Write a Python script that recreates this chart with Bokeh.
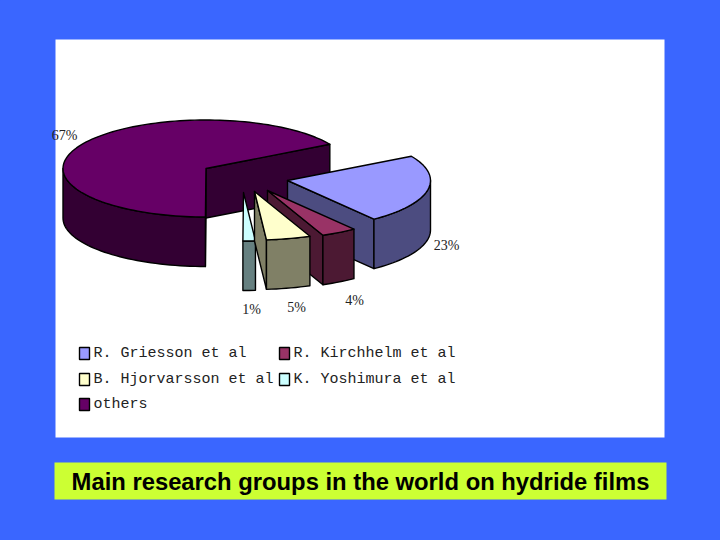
import math
from bokeh.core.properties import value
from bokeh.embed import file_html
from bokeh.models import Range1d
from bokeh.plotting import figure
from bokeh.resources import INLINE

groups = ["R. Griesson et al", "R. Kirchhelm et al", "B. Hjorvarsson et al", "K. Yoshimura et al", "others"]
shares = [23, 4, 5, 1.4, 66.6]
slice_labels = ["23%", "4%", "5%", "1%", "67%"]
top_colors = ["#9999FF", "#993366", "#FFFFCC", "#CCFFFF", "#660066"]
side_colors = ["#4C4C80", "#4C1933", "#808066", "#668080", "#330033"]
caption = "Main research groups in the world on hydride films"

BG = "#3A66FF"
p = figure(width=704, height=524, output_backend="svg", toolbar_location=None,
           x_range=Range1d(0, 704), y_range=Range1d(524, 0), min_border=0,
           background_fill_color=BG, border_fill_color=BG, outline_line_color=None)
p.xaxis.visible = False
p.yaxis.visible = False
p.xgrid.visible = False
p.ygrid.visible = False

# panels
p.quad(left=[55], right=[664], top=[39], bottom=[437], fill_color="white", line_color=None)
p.quad(left=[54], right=[666], top=[462], bottom=[499], fill_color="#CCFF33", line_color=None)
p.text(x=[360], y=[481], text=[caption], text_font=value("Liberation Sans"), text_font_style="bold",
       text_font_size="23.8px", text_align="center", text_baseline="middle", text_color="black")

# pie geometry
RX, RY, DEPTH = 143, 48.5, 49.5
START = 60
apex = {0: (287, 180), 1: (267, 190), 2: (254, 191), 3: (243, 192), 4: (205.5, 168)}
draw_order = [4, 0, 1, 3, 2]

angles = []
t = START
for s in shares:
    angles.append((t, t + s * 3.6))
    t += s * 3.6


def rim(a, tt):
    r = math.radians(tt)
    return (a[0] + RX * math.sin(r), a[1] - RY * math.cos(r))


def arc(a, t0, t1):
    n = max(2, int(abs(t1 - t0) / 2) + 1)
    return [rim(a, t0 + (t1 - t0) * i / (n - 1)) for i in range(n)]


def poly(pts, color):
    p.patch([q[0] for q in pts], [q[1] for q in pts], fill_color=color,
            line_color="black", line_width=1.4, line_join="round")


for i in draw_order:
    a = apex[i]
    t0, t1 = angles[i]
    side = side_colors[i]
    # radial faces that look toward the viewer
    if math.sin(math.radians(t0)) < 0:
        e = rim(a, t0)
        poly([a, e, (e[0], e[1] + DEPTH), (a[0], a[1] + DEPTH)], side)
    if math.sin(math.radians(t1)) > 0:
        e = rim(a, t1)
        poly([a, e, (e[0], e[1] + DEPTH), (a[0], a[1] + DEPTH)], side)
    # front wall
    f0, f1 = max(t0, 90), min(t1, 270)
    if f1 > f0:
        front = arc(a, f0, f1)
        poly(front + [(q[0], q[1] + DEPTH) for q in reversed(front)], side)
    # top face
    poly([a] + arc(a, t0, t1), top_colors[i])

# slice labels
label_x = [446, 354, 296, 251, 64]
label_y = [245, 300, 307, 309, 135]
p.text(x=label_x, y=label_y, text=slice_labels, text_font=value("Liberation Serif"), text_font_size="14px",
       text_align="center", text_baseline="middle", text_color="#222222")

# legend
leg_x = [79, 279, 79, 279, 79]
leg_y = [353, 353, 379, 379, 404]
p.quad(left=leg_x, right=[x + 10 for x in leg_x], top=[y - 6 for y in leg_y], bottom=[y + 6 for y in leg_y],
       fill_color=top_colors, line_color="black", line_width=1.4)
p.text(x=[x + 14 for x in leg_x], y=leg_y, text=groups, text_font=value("Liberation Mono"), text_font_size="15px",
       text_align="left", text_baseline="middle", text_color="#222222")

html = file_html(p, INLINE)
html = html.replace("<body>", '<body style="background:%s">' % BG)
open("out.html", "w").write(html)
